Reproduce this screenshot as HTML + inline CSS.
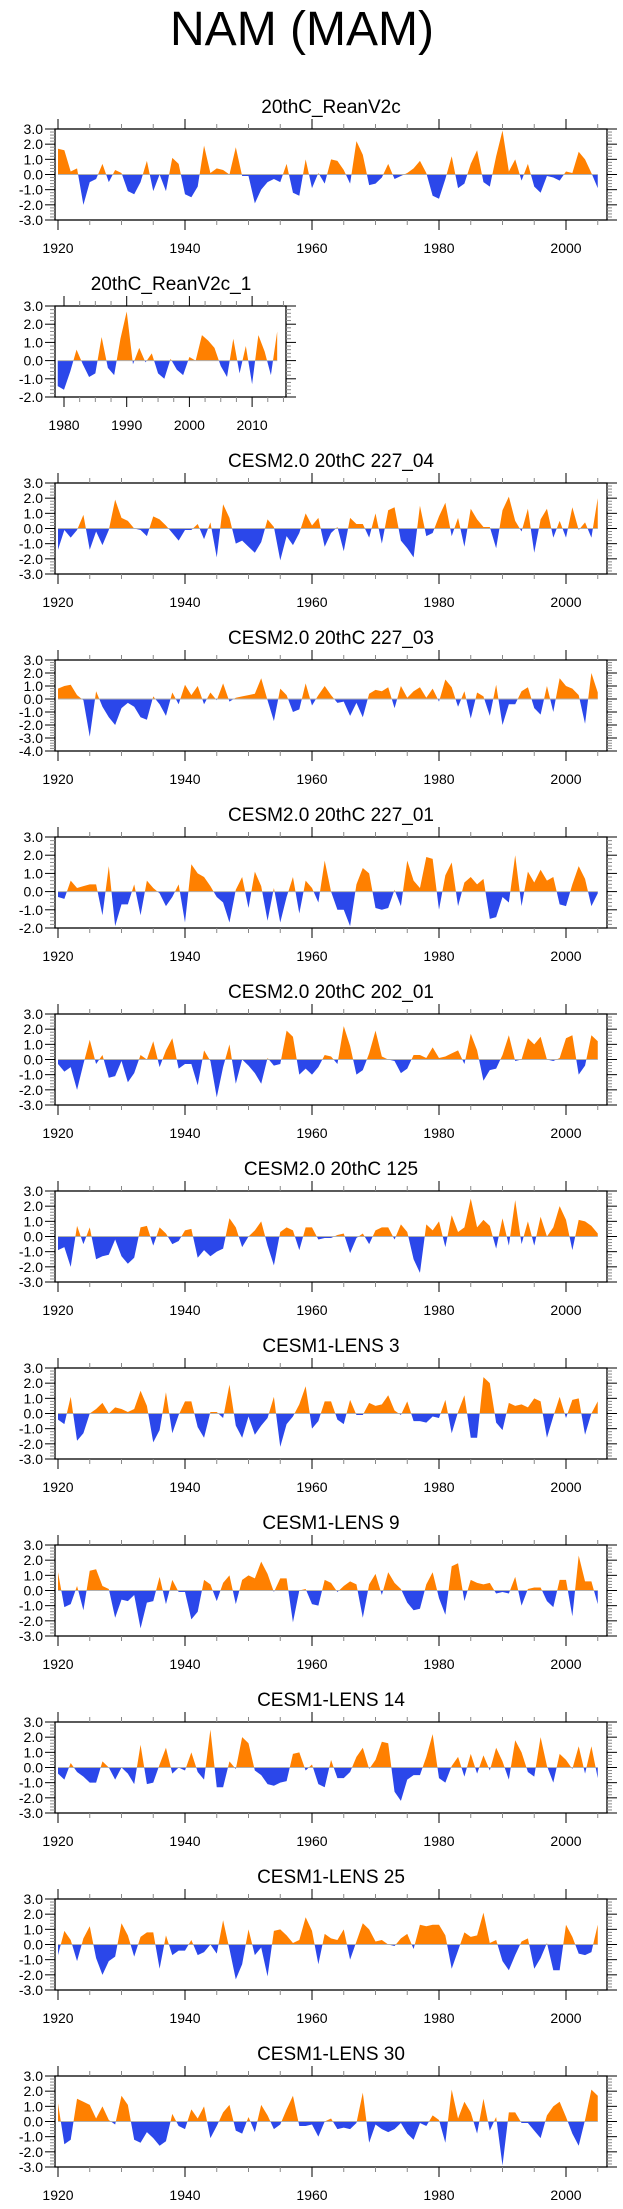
<!DOCTYPE html>
<html><head><meta charset="utf-8"><style>
html,body{margin:0;padding:0;background:#fff;}
svg{display:block;font-family:"Liberation Sans",Arial,sans-serif;}
</style></head><body>
<svg id="fig" width="623" height="2209" viewBox="0 0 623 2209">
<text x="302" y="45" font-size="48" text-anchor="middle">NAM (MAM)</text>
</svg>
<script>
const titles = ["20thC_ReanV2c","20thC_ReanV2c_1","CESM2.0 20thC 227_04","CESM2.0 20thC 227_03","CESM2.0 20thC 227_01","CESM2.0 20thC 202_01","CESM2.0 20thC 125","CESM1-LENS 3","CESM1-LENS 9","CESM1-LENS 14","CESM1-LENS 25","CESM1-LENS 30"];
const yMins = [-3,-2,-3,-4,-2,-3,-3,-3,-3,-3,-3,-3];
const yMaxs = [3,3,3,3,3,3,3,3,3,3,3,3];
const startYears = [1920,1979,1920,1920,1920,1920,1920,1920,1920,1920,1920,1920];
const xTickYears = [1920,1940,1960,1980,2000];
const xTickYears2 = [1980,1990,2000,2010];
const s0 = [1.7,1.6,0.2,0.4,-2.0,-0.5,-0.3,0.7,-0.5,0.3,0.1,-1.1,-1.3,-0.5,0.9,-1.1,0.0,-1.1,1.1,0.7,-1.3,-1.5,-0.8,1.9,0.1,0.4,0.3,0.0,1.8,-0.1,-0.1,-1.9,-1.0,-0.5,-0.3,-0.5,0.7,-1.2,-1.4,1.0,-0.9,0.1,-0.6,1.0,0.9,0.3,-0.6,2.2,1.3,-0.7,-0.6,-0.2,0.7,-0.3,-0.1,0.1,0.4,0.9,0.1,-1.4,-1.6,-0.3,1.2,-0.9,-0.6,0.7,1.6,-0.5,-0.8,1.2,2.9,0.2,1.0,-0.4,0.7,-0.8,-1.2,-0.1,-0.2,-0.4,0.2,0.1,1.5,1.0,0.1,-0.9];
const s1 = [-1.4,-1.6,-0.6,0.6,-0.2,-0.9,-0.7,1.3,-0.4,-0.8,1.2,2.7,-0.2,0.7,-0.1,0.4,-0.7,-1.0,0.1,-0.5,-0.8,0.2,0.0,1.4,1.1,0.7,-0.3,-0.9,1.2,-0.7,0.8,-1.3,1.4,0.5,-0.8,1.6];
const s2 = [-1.4,-0.1,-0.6,-0.1,0.9,-1.4,-0.2,-1.1,-0.1,1.9,0.7,0.5,0.0,-0.1,-0.5,0.8,0.6,0.2,-0.3,-0.8,-0.1,-0.1,0.3,-0.7,0.4,-1.9,1.6,0.7,-1.0,-0.8,-1.2,-1.6,-0.9,0.6,0.1,-2.1,-0.5,-1.1,-0.3,1.0,0.2,0.7,-1.2,-0.3,0.1,-1.5,0.7,0.3,0.3,-0.6,1.0,-1.0,1.2,1.4,-0.8,-1.3,-1.9,1.5,-0.5,-0.3,0.8,1.7,-0.5,0.7,-1.2,1.3,0.6,0.1,0.1,-1.3,1.2,2.1,0.5,-0.2,1.3,-1.6,0.6,1.3,-0.6,0.5,-0.6,1.4,-0.1,0.4,-0.6,2.0];
const s3 = [0.8,1.0,1.1,0.3,-0.1,-2.9,0.6,-0.6,-1.4,-2.0,-0.7,-0.3,-0.6,-1.4,-1.6,0.2,-0.4,-1.3,0.5,-0.4,1.1,0.3,1.0,-0.4,0.5,-0.1,1.2,-0.2,0.1,0.2,0.3,0.4,1.6,-0.1,-1.7,0.8,0.3,-1.0,-0.8,1.2,-0.5,0.3,1.0,0.3,-0.3,-0.2,-1.3,-0.3,-1.4,0.4,0.7,0.6,0.9,-0.7,1.0,0.1,0.6,0.9,0.1,0.8,-0.2,1.5,0.9,-0.6,0.6,-1.5,0.5,0.2,-1.3,1.1,-2.0,-0.4,-0.4,0.6,0.9,-0.7,-1.2,1.0,-1.0,1.6,1.0,0.8,0.3,-1.9,2.0,0.5];
const s4 = [-0.3,-0.4,0.6,0.2,0.3,0.4,0.4,-1.3,1.4,-1.9,-0.7,-0.7,0.4,-1.3,0.6,0.2,-0.1,-0.8,-0.3,0.4,-1.7,1.5,1.0,0.8,0.3,-0.3,-0.6,-1.7,0.1,0.8,-0.9,1.1,0.3,-1.6,0.2,-1.7,-0.3,0.8,-1.2,0.6,0.2,-0.6,1.7,0.0,-1.0,-1.0,-1.9,0.4,1.3,1.0,-0.9,-1.0,-0.9,0.1,-0.8,1.7,0.6,0.2,1.9,1.8,-1.0,0.9,1.6,-0.8,0.5,0.8,0.4,0.7,-1.5,-1.4,-0.3,-0.6,2.0,-0.8,1.1,0.5,1.2,0.6,0.8,-0.7,-0.8,0.4,1.4,0.7,-0.8,-0.1];
const s5 = [-0.3,-0.8,-0.5,-2.0,-0.3,1.3,-0.3,0.3,-1.2,-1.1,-0.1,-1.5,-0.9,0.3,0.0,1.2,-0.5,0.6,1.4,-0.6,-0.3,-0.3,-1.7,0.6,-0.1,-2.5,-0.5,1.0,-1.6,0.0,-0.4,-0.9,-1.6,0.1,-0.4,-0.3,1.9,1.5,-1.0,-0.6,-1.0,-0.5,0.3,0.2,-0.3,2.2,0.9,-1.0,-0.7,0.4,1.9,0.2,0.0,-0.1,-0.9,-0.6,0.3,0.3,0.1,0.8,0.1,0.2,0.4,0.6,-0.3,1.7,0.6,-1.4,-0.7,-0.6,0.3,1.6,-0.1,0.0,1.4,1.0,1.5,0.0,-0.1,0.1,1.4,1.6,-1.0,-0.4,1.6,1.2];
const s6 = [-0.9,-0.7,-2.0,0.7,-0.5,0.6,-1.5,-1.3,-1.2,-0.2,-1.3,-1.8,-1.4,0.6,0.7,-0.6,0.6,0.2,-0.5,-0.3,0.4,0.5,-1.4,-0.9,-1.3,-1.0,-0.8,1.2,0.6,-0.7,0.0,0.4,1.0,-0.6,-1.9,0.3,0.6,0.4,-0.9,0.6,0.6,-0.2,-0.1,-0.1,0.1,0.2,-1.1,-0.1,0.2,-0.5,0.4,0.6,0.6,-0.2,0.8,0.3,-1.5,-2.4,0.8,0.4,1.0,-0.7,1.4,0.3,0.6,2.5,0.6,1.1,0.7,-0.8,1.2,-0.6,2.4,-0.5,1.0,-0.6,1.3,0.0,0.6,2.0,1.1,-0.9,1.1,1.0,0.7,0.2];
const s7 = [-0.4,-0.7,1.1,-1.8,-1.3,0.0,0.3,0.7,0.0,0.4,0.3,0.1,0.3,1.5,0.5,-1.9,-1.1,1.4,-1.3,-0.1,0.8,0.8,-0.9,-1.6,0.1,0.1,-0.3,1.9,-0.8,-1.6,-0.2,-1.4,-0.8,-0.3,1.1,-2.2,-0.7,-0.2,0.6,1.8,-1.0,-0.5,0.8,0.8,-0.4,-0.7,0.9,-0.1,-0.1,0.7,0.5,0.6,1.2,0.2,-0.1,0.8,-0.5,-0.5,-0.6,-0.2,-0.3,0.9,-1.3,0.1,1.2,-1.6,-1.6,2.4,2.0,-0.6,-1.1,0.7,0.5,0.6,0.4,1.0,0.8,-1.6,-0.2,1.1,-0.3,0.9,1.0,-1.4,0.0,0.8];
const s8 = [1.2,-1.1,-0.9,0.3,-1.3,1.3,1.4,0.3,0.1,-1.8,-0.6,-0.7,-0.3,-2.5,-0.8,-0.7,0.9,-0.9,0.7,-0.1,-0.1,-1.9,-1.4,0.7,0.4,-0.7,0.5,1.0,-0.9,0.7,1.0,0.8,1.9,1.1,-0.1,0.8,0.8,-2.1,0.0,0.1,-0.9,-1.0,0.7,0.5,-0.1,0.3,0.6,0.4,-1.8,0.4,1.1,-0.3,1.2,0.5,0.1,-0.8,-1.3,-1.2,0.4,1.2,-0.5,-1.6,1.6,1.8,-0.7,0.7,0.5,0.4,0.5,-0.2,-0.1,-0.2,0.9,-1.0,0.1,0.2,0.2,-0.7,-1.1,0.7,0.7,-1.7,2.3,0.6,0.6,-0.9];
const s9 = [-0.4,-0.8,0.3,-0.3,-0.6,-1.0,-1.0,0.4,0.0,-0.8,0.0,-0.4,-1.1,1.5,-1.1,-1.0,0.2,1.3,-0.4,0.0,-0.2,1.0,-0.3,-0.8,2.5,-1.3,-1.3,0.4,-0.1,2.0,1.6,-0.2,-0.5,-1.1,-1.2,-1.0,-0.9,0.9,1.0,-0.2,0.2,-1.1,-1.3,0.5,-0.7,-0.7,-0.3,0.7,1.3,-0.1,0.5,1.7,1.6,-1.6,-2.2,-0.8,-0.5,-0.5,0.7,2.2,-0.7,-1.0,0.1,0.7,-0.6,0.9,-0.4,0.8,-0.2,1.3,0.4,-0.8,1.8,1.0,-0.3,-0.6,2.0,0.1,-1.0,0.9,0.5,-0.1,1.4,-0.4,1.4,-0.7];
const s10 = [-0.7,0.9,0.3,-1.1,0.4,1.2,-0.9,-2.0,-1.1,-0.8,1.4,0.6,-0.8,0.5,0.8,0.8,-1.6,0.6,-0.7,-0.4,-0.4,0.3,-0.7,-0.5,0.0,-0.6,1.6,-0.3,-2.3,-1.3,1.0,-0.7,-0.2,-2.1,0.9,1.0,0.6,0.1,0.3,1.8,0.9,-1.3,0.7,0.4,0.3,1.0,-1.0,0.2,1.4,1.0,0.2,0.3,0.0,-0.1,0.4,0.7,-0.3,1.3,1.2,1.3,1.3,0.6,-1.6,-0.4,0.8,0.5,0.6,2.1,0.1,0.3,-1.1,-1.7,-0.7,0.2,0.4,-1.6,-0.9,0.1,-1.7,-1.7,1.3,0.5,-0.6,-0.7,-0.5,1.3];
const s11 = [1.2,-1.5,-1.2,1.5,1.3,1.1,0.2,1.0,0.1,-0.2,1.7,1.1,-1.2,-1.4,-0.7,-1.1,-1.6,-1.3,0.5,-0.3,-0.5,0.8,0.2,1.0,-1.1,-0.3,0.6,1.1,-0.6,-0.8,0.3,-0.7,1.1,0.4,-0.5,-0.2,0.8,1.7,-0.3,-0.3,-0.2,-1.0,0.0,0.2,-0.5,-0.4,-0.5,-0.1,1.9,-1.4,-0.2,-0.5,-0.7,-0.5,-0.1,-0.8,-1.2,-0.1,-0.3,0.4,0.1,-1.4,2.1,0.2,1.3,0.6,-0.8,1.5,-0.6,0.3,-2.9,0.6,0.6,-0.1,-0.1,-0.6,-1.1,0.4,1.0,1.3,0.3,-0.8,-1.6,0.1,2.1,1.7];
const seriesList = [s0,s1,s2,s3,s4,s5,s6,s7,s8,s9,s10,s11];

const NS = "http://www.w3.org/2000/svg";
const svg = document.getElementById('fig');
function mk(tag, attrs, parent){ const e=document.createElementNS(NS,tag); for(const k in attrs) e.setAttribute(k,attrs[k]); (parent||svg).appendChild(e); return e; }

seriesList.forEach((data, p) => {
  const small = p === 1;
  const top = p===0 ? 129 : (p===1 ? 306 : 483 + 177*(p-2));
  const h = 91;
  const left = small ? 55 : 55, right = small ? 286 : 607;
  const x0 = small ? 64 : 58, ppy = small ? 6.27 : 6.35, yr0 = small ? 1980 : 1920;
  const xs = yr => x0 + (yr - yr0)*ppy;
  const yMin = yMins[p], yMax = yMaxs[p];
  const ys = v => top + (yMax - v)/(yMax - yMin)*h;
  const g = mk('g', {});
  
  
  const t = mk('text', {x: small?171:331, y: top-16, 'font-size': 19, 'text-anchor':'middle'}, g);
  t.textContent = titles[p];
  
  
  // clip paths
  const z = ys(0);
  const cpU = mk('clipPath', {id:'cu'+p}, g); mk('rect',{x:left,y:top,width:right-left,height:z-top},cpU);
  const cpD = mk('clipPath', {id:'cd'+p}, g); mk('rect',{x:left,y:z,width:right-left,height:top+h-z},cpD);
  let d = 'M' + xs(startYears[p]).toFixed(2) + ',' + z.toFixed(2);
  data.forEach((v,i) => { d += ' L' + xs(startYears[p]+i).toFixed(2) + ',' + ys(v).toFixed(2); });
  d += ' L' + xs(startYears[p]+data.length-1).toFixed(2) + ',' + z.toFixed(2) + ' Z';
  const pu = mk('path', {d:d, fill:'#ff8000', 'clip-path':'url(#cu'+p+')'}, g);
  
  
  const pd = mk('path', {d:d, fill:'#2b47ea', 'clip-path':'url(#cd'+p+')'}, g);
  
  
  mk('line', {x1:xs(startYears[p]), x2:xs(startYears[p]+data.length-1), y1:z, y2:z, stroke:'#b0b0b0', 'stroke-width':1}, g);
  const box = mk('rect', {x:left, y:top, width:right-left, height:h, fill:'none', stroke:'#000', 'stroke-width':1.3}, g);
  
  
  // y ticks
  for (let k = Math.round(yMin*5); k <= Math.round(yMax*5); k++) {
    const v = k/5, y = ys(v), major = k%5===0;
    const L = major ? 10 : 5;
    mk('line', {x1:left-L, x2:left, y1:y, y2:y, stroke: major?'#000':'#888', 'stroke-width':1}, g);
    mk('line', {x1:right, x2:right+L, y1:y, y2:y, stroke: major?'#000':'#888', 'stroke-width':1}, g);
    if (major) {
      const lt = mk('text', {x:left-12, y:y+5, 'font-size':14, 'text-anchor':'end'}, g);
      lt.textContent = v.toFixed(1);
      
      
    }
  }
  // x ticks
  const majors = small ? xTickYears2 : xTickYears;
  const minorStep = small ? 2.5 : 5;
  const firstYr = small ? 1977.5 : 1920, lastYr = small ? 2015 : 2005;
  for (let yr = firstYr; yr <= lastYr + 0.01; yr += minorStep) {
    const x = xs(yr);
    if (x < left || x > right) continue;
    const major = majors.includes(yr);
    const L = major ? 10 : 5;
    mk('line', {x1:x, x2:x, y1:top-L, y2:top, stroke: major?'#000':'#888', 'stroke-width':1}, g);
    mk('line', {x1:x, x2:x, y1:top+h, y2:top+h+L, stroke: major?'#000':'#888', 'stroke-width':1}, g);
  }
  majors.forEach(yr => {
    const xt = mk('text', {x:xs(yr), y:top+h+33, 'font-size':14, 'text-anchor':'middle'}, g);
    xt.textContent = String(yr);
    
    
  });
});
</script>
</body></html>
